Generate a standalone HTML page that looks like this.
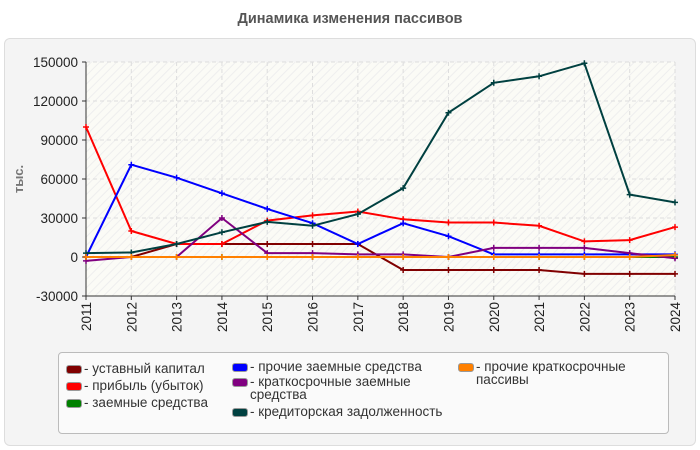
<!DOCTYPE html>
<html><head><meta charset="utf-8"><style>
body{margin:0;width:700px;height:450px;background:#fff;font-family:"Liberation Sans",sans-serif;overflow:hidden;position:relative}
.leg{position:absolute;font-size:13.5px;color:#333;line-height:13px}
.sw{position:absolute;width:14px;height:7px;border-radius:3px;border:1px solid #999}
</style></head><body>
<div style="position:absolute;top:11px;width:700px;text-align:center;font-weight:bold;font-size:14.5px;color:#555">Динамика изменения пассивов</div>
<div style="position:absolute;left:4px;top:38px;width:690px;height:406px;background:#f4f4f4;border:1px solid #ddd;border-radius:6px"></div>
<svg id="ch" width="700" height="450" style="position:absolute;left:0;top:0">
<defs><pattern id="hat" width="6" height="6" patternUnits="userSpaceOnUse" patternTransform="rotate(45)"><rect width="6" height="6" fill="#fbfbf6"/><line x1="0" y1="0" x2="0" y2="6" stroke="#eee" stroke-width="2"/></pattern></defs>
</svg>
<div style="position:absolute;left:58px;top:352px;width:609px;height:80px;background:#fafafa;border:1px solid #bbb;border-radius:4px"></div>
<div id="legs"></div>
<script>
const years=[2011,2012,2013,2014,2015,2016,2017,2018,2019,2020,2021,2022,2023,2024];
const yTicks=[-30000,0,30000,60000,90000,120000,150000];
const ustav=[0,0,10000,10000,10000,10000,10000,-10000,-10000,-10000,-10000,-13000,-13000,-13000];
const pribyl=[100000,20000,10000,10000,28000,32000,35000,29000,26500,26500,24000,12000,13000,23000];
const zaem=[0,0,0,0,0,0,0,0,0,0,0,0,0,0];
const prochZaem=[0,71000,61000,49000,37000,26000,10000,26000,16000,2000,2000,2000,2000,2000];
const kratZaem=[-3000,0,0,30000,3000,3000,2000,2000,0,7000,7000,7000,3000,-1000];
const kredit=[3000,3500,10000,19000,27000,24000,33000,53000,111000,134000,139000,149000,48000,42000];
const prochKrat=[0,0,0,0,0,0,0,0,0,0,0,0,0,1500];
const L=86,R=675,T=62,B=296,ymin=-30000,ymax=150000;
const X=i=>L+(R-L)*i/(years.length-1);
const Y=v=>B-(v-ymin)/(ymax-ymin)*(B-T);
const svg=document.getElementById('ch');const NS='http://www.w3.org/2000/svg';
function mk(t,a){const e=document.createElementNS(NS,t);for(const k in a)e.setAttribute(k,a[k]);svg.appendChild(e);return e;}
let e=mk('rect',{x:L,y:T,width:R-L,height:B-T,fill:'url(#hat)'});


yTicks.forEach(v=>{
 let g=mk('line',{x1:L,x2:R,y1:Y(v),y2:Y(v),stroke:'#ddd','stroke-dasharray':'4,3'});
 
 
 let t=mk('text',{x:L-8,y:Y(v)+5,'text-anchor':'end','font-size':'13.5',fill:'#222'});t.textContent=v;
 
 
 mk('line',{x1:L-4,x2:L,y1:Y(v),y2:Y(v),stroke:'#333'});
});
years.forEach((yr,i)=>{
 if(i>0){let g=mk('line',{x1:X(i),x2:X(i),y1:T,y2:B,stroke:'#ddd','stroke-dasharray':'4,3'});
 
 }
 mk('line',{x1:X(i),x2:X(i),y1:B,y2:B+4,stroke:'#333'});
 let t=mk('text',{x:0,y:0,'text-anchor':'end','font-size':'13.5',fill:'#222',transform:`translate(${X(i)+5},${B+6}) rotate(-90)`});t.textContent=yr;
 
 
});
mk('line',{x1:L,x2:L,y1:T,y2:B,stroke:'#333'});
mk('line',{x1:L,x2:R,y1:B,y2:B,stroke:'#333'});
let yt=mk('text',{x:0,y:0,'text-anchor':'middle','font-size':'13','font-weight':'bold',fill:'#777',transform:`translate(23,179) rotate(-90)`});yt.textContent='тыс.';


const series=[[zaem,'#008000','zaem'],[ustav,'#800000','ustav'],[pribyl,'#ff0000','pribyl'],[prochZaem,'#0000ff','proch-zaem'],[kratZaem,'#800080','krat-zaem'],[kredit,'#004040','kredit'],[prochKrat,'#ff8000','proch-krat']];
series.forEach(([d,c,n])=>{
 let p=mk('polyline',{points:d.map((v,i)=>X(i)+','+Y(v)).join(' '),fill:'none',stroke:c,'stroke-width':2});
 
 
 d.forEach((v,i)=>{let m=mk('path',{d:`M${X(i)-3},${Y(v)}h6M${X(i)},${Y(v)-3}v6`,stroke:c,'stroke-width':1.5});
 
 });
});
const legs=[['#800000','- уставный капитал',66,362],['#ff0000','- прибыль (убыток)',66,379],['#008000','- заемные средства',66,396],['#0000ff','- прочие заемные средства',232,360],['#800080','- краткосрочные заемные<br>средства',232,375],['#004040','- кредиторская задолженность',232,405],['#ff8000','- прочие краткосрочные<br>пассивы',458,360]];
const lc=document.getElementById('legs');
legs.forEach(([c,t,x,y])=>{
 const s=document.createElement('div');s.className='sw';s.style.background=c;s.style.left=x+'px';s.style.top=(y+3)+'px';
 
 
 lc.appendChild(s);
 const d=document.createElement('div');d.className='leg';d.innerHTML=t;d.style.left=(x+18)+'px';d.style.top=y+'px';
 
 
 lc.appendChild(d);
});
</script>
</body></html>
